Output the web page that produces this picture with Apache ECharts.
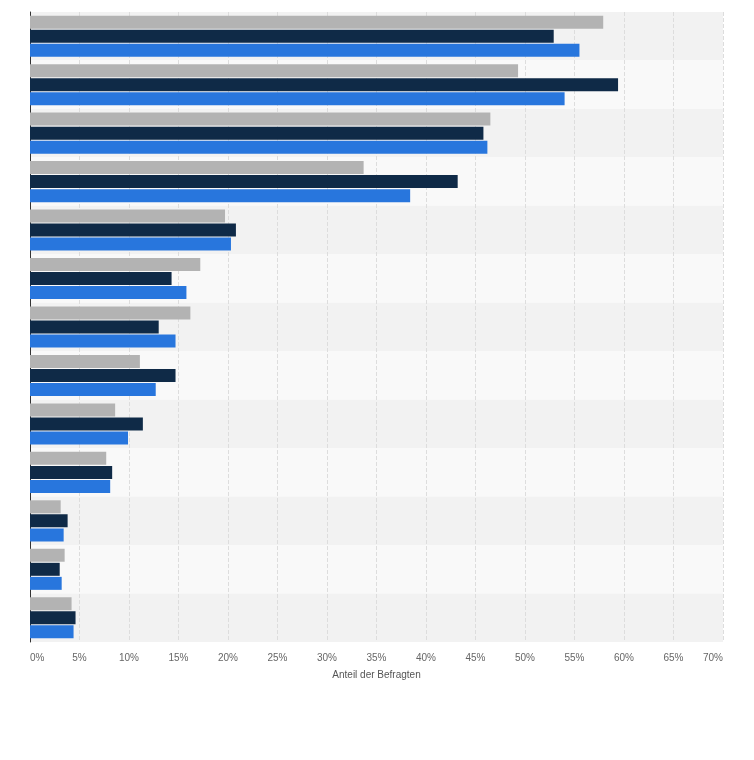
<!DOCTYPE html>
<html>
<head>
<meta charset="utf-8">
<script src="https://cdn.jsdelivr.net/npm/echarts@6/dist/echarts.min.js"></script>
<style>html,body{margin:0;padding:0;background:#fff}#chart{width:754px;height:760px}</style>
</head>
<body>
<div id="chart"></div>
<script>
// 13 Kategorien (Beschriftungen im Original nicht sichtbar)
const kategorien = ['1','2','3','4','5','6','7','8','9','10','11','12','13'];
const reiheGrau = [57.9, 49.3, 46.5, 33.7, 19.7, 17.2, 16.2, 11.1, 8.6, 7.7, 3.1, 3.5, 4.2];
const reiheDunkel = [52.9, 59.4, 45.8, 43.2, 20.8, 14.3, 13.0, 14.7, 11.4, 8.3, 3.8, 3.0, 4.6];
const reiheBlau = [55.5, 54.0, 46.2, 38.4, 20.3, 15.8, 14.7, 12.7, 9.9, 8.1, 3.4, 3.2, 4.4];
const tickLabels = ['0%','5%','10%','15%','20%','25%','30%','35%','40%','45%','50%','55%','60%','65%','70%'];

var grafico = echarts.init(document.getElementById('chart'));
function bar(name, data, color) {
  return { name: name, type: 'bar', data: data, barWidth: 13, barGap: '8%',
    itemStyle: { color: color }, animation: false };
}
var option = {
  backgroundColor: '#ffffff',
  grid: { left: 30, right: 31, top: 12, bottom: 118 },
  xAxis: {
    type: 'value', min: 0, max: 70, interval: 5,
    name: 'Anteil der Befragten', nameLocation: 'middle', nameGap: 28,
    nameTextStyle: { color: '#555', fontSize: 10, fontFamily: 'Liberation Sans' },
    axisLabel: { color: '#666', fontSize: 10, fontFamily: 'Liberation Sans', margin: 11,
      alignMinLabel: 'left', alignMaxLabel: 'right',
      formatter: v => tickLabels[v / 5] },
    axisLine: { show: false }, axisTick: { show: false },
    splitLine: { lineStyle: { color: '#dddddd', type: 'dashed' } }
  },
  yAxis: {
    type: 'category', data: kategorien, inverse: true,
    axisLabel: { show: false }, axisTick: { show: false },
    axisLine: { lineStyle: { color: '#333', width: 1 } },
    splitArea: { show: true, areaStyle: { color: ['#f2f2f2', '#f9f9f9'] } }
  },
  series: [
    bar('Grau', reiheGrau, '#b3b3b3'),
    bar('Dunkel', reiheDunkel, '#0f2a47'),
    bar('Blau', reiheBlau, '#2876dd')
  ]
};
grafico.setOption(option);
</script>
</body>
</html>
